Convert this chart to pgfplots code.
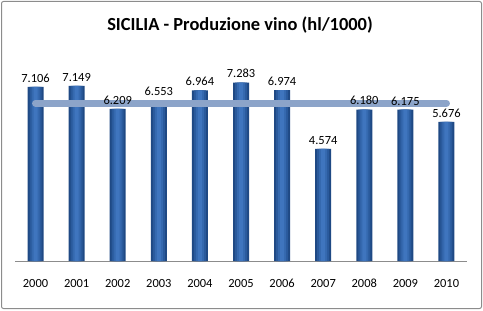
\documentclass[border=0pt]{standalone}
\usepackage{pgfplots}
\pgfplotsset{compat=1.18}
\usepackage{fontspec}
\setmainfont{Carlito}
\definecolor{bar1}{HTML}{1F4984}
\definecolor{bar2}{HTML}{2A5A9C}
\definecolor{bar3}{HTML}{3569AF}
\definecolor{bar4}{HTML}{3F75BE}
\definecolor{avgline}{HTML}{8CA4C9}
\definecolor{frame}{HTML}{8C8C8C}
\pgfplotstableread{
x y
0 7106
1 7149
2 6209
3 6553
4 6964
5 7283
6 6974
7 4574
8 6180
9 6175
10 5676
}\datatable
\begin{document}
\begin{tikzpicture}[x=1bp,y=1bp]
\useasboundingbox (0,0) rectangle (483,310);
\draw[frame, line width=1bp, rounded corners=2bp] (1.5,1.5) rectangle (481.5,308.5);
\node[font=\fontsize{18.5}{20}\selectfont\bfseries] at (240,285) {SICILIA - Produzione vino (hl/1000)};
\begin{axis}[
  at={(15bp,49bp)}, anchor=south west,
  scale only axis, width=452bp, height=196bp,
  xmin=-0.5, xmax=10.5, ymin=0, ymax=8000,
  axis x line=bottom, axis y line=none,
  x axis line style={-, draw=frame, line width=0.8bp},
  xtick={0,...,10}, major tick length=0pt,
  xticklabels={2000,2001,2002,2003,2004,2005,2006,2007,2008,2009,2010},
  xticklabel style={font=\fontsize{12.5}{14}\selectfont, text height=9bp, text depth=0pt, yshift=-14bp},
  ytick=\empty,
  /pgf/number format/assume math mode=true,
  clip=false,
]
\addplot[ybar, bar shift=0pt, bar width=16bp, draw=none, fill=bar1,
  nodes near coords, nodes near coords style={font=\fontsize{12.5}{14}\selectfont, text=black, yshift=1bp, /pgf/number format/.cd, 1000 sep={.}, fixed, precision=0, assume math mode=true}]
  table[x=x,y=y] {\datatable};
\addplot[ybar, bar shift=0pt, bar width=12bp, draw=none, fill=bar2] table[x=x,y=y] {\datatable};
\addplot[ybar, bar shift=0pt, bar width=8bp, draw=none, fill=bar3] table[x=x,y=y] {\datatable};
\addplot[ybar, bar shift=0pt, bar width=4bp, draw=none, fill=bar4] table[x=x,y=y] {\datatable};
\addplot[avgline, line width=7bp, line cap=round, mark=none] coordinates {(0,6440) (10,6440)};
\end{axis}
\end{tikzpicture}
\end{document}
